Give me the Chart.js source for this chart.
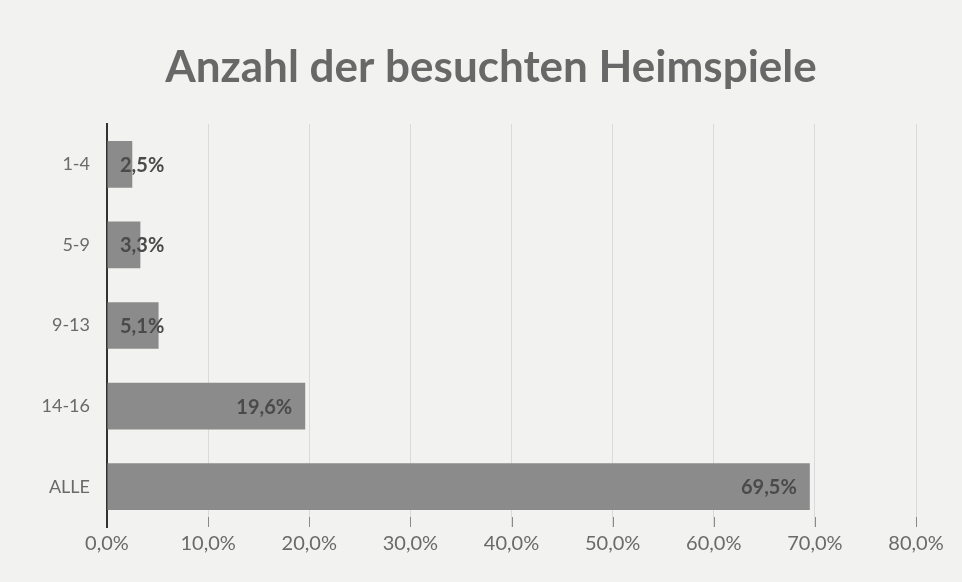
<!DOCTYPE html>
<html>
<head>
<meta charset="utf-8">
<script src="https://cdn.jsdelivr.net/npm/chart.js@4.4.0/dist/chart.umd.min.js"></script>
<style>
  html, body { margin: 0; padding: 0; background: #f2f2f1; }
  #wrap { width: 962px; height: 582px; position: relative; }
</style>
</head>
<body>
<div id="wrap"><canvas id="chart"></canvas></div>
<script>
// data
const categories = ['1-4', '5-9', '9-13', '14-16', 'ALLE'];
const shares = [2.5, 3.3, 5.1, 19.6, 69.5];
const axisMax = 80;
const axisStep = 10;
const chartTitle = 'Anzahl der besuchten Heimspiele';

const FONT = 'Lato, "Open Sans", sans-serif';
const fmt = v => v.toFixed(1).replace('.', ',') + '%';

// title drawn by hand: the scan centres it on the whole picture, not the plot
const titleText = {
    id: 'titleText',
    afterDraw(chart) {
        const ctx = chart.ctx;
        ctx.save();
        ctx.font = 'bold 44px ' + FONT;
        ctx.fillStyle = '#686868';
        ctx.textAlign = 'center';
        ctx.textBaseline = 'middle';
        ctx.fillText(chartTitle, 491, 68);
        ctx.restore();
    }
};

// Excel style "inside end" labels, pushed right when the bar is too short
const barLabels = {
    id: 'barLabels',
    afterDatasetsDraw(chart) {
        const ctx = chart.ctx;
        const meta = chart.getDatasetMeta(0);
        const x0 = chart.scales.x.getPixelForValue(0);
        ctx.save();
        ctx.font = 'bold 20px ' + FONT;
        ctx.fillStyle = '#4a4a4a';
        ctx.textBaseline = 'middle';
        meta.data.forEach((bar, i) => {
            const txt = fmt(shares[i]);
            const w = ctx.measureText(txt).width;
            const x = Math.max(x0 + 13, bar.x - 13 - w);
            ctx.fillText(txt, x, bar.y + 1);
        });
        ctx.restore();
    }
};

// small tick marks at the bottom of every gridline
const tickMarks = {
    id: 'tickMarks',
    afterDatasetsDraw(chart) {
        const ctx = chart.ctx, sx = chart.scales.x, area = chart.chartArea;
        ctx.save();
        ctx.strokeStyle = '#8a8a8a';
        ctx.lineWidth = 1;
        sx.ticks.forEach((t, i) => {
            if (i === 0) return;
            const x = Math.round(sx.getPixelForTick(i)) + 0.5;
            ctx.beginPath();
            ctx.moveTo(x, area.bottom - 10);
            ctx.lineTo(x, area.bottom);
            ctx.stroke();
        });
        ctx.restore();
    }
};

new Chart(document.getElementById('chart'), {
    type: 'bar',
    data: {
        labels: categories,
        datasets: [{
            data: shares,
            backgroundColor: '#8b8b8b',
            barPercentage: 0.58,
            categoryPercentage: 1
        }]
    },
    options: {
        indexAxis: 'y',
        responsive: true,
        maintainAspectRatio: false,
        animation: false,
        layout: { padding: { left: 0, right: 46, top: 124, bottom: 0 } },
        plugins: {
            legend: { display: false },
            tooltip: { enabled: false },
            title: { display: false }
        },
        scales: {
            x: {
                min: 0, max: axisMax,
                ticks: {
                    stepSize: axisStep,
                    callback: v => fmt(v),
                    color: '#6a6a6a',
                    font: { family: FONT, size: 20 },
                    padding: 5
                },
                grid: { color: '#dadada', drawTicks: false },
                border: { display: false },
                afterFit: s => { s.height = 55; }
            },
            y: {
                ticks: {
                    color: '#6a6a6a',
                    font: { family: FONT, size: 18 },
                    padding: 9
                },
                grid: { display: false },
                border: { color: '#333333', width: 2 },
                afterFit: s => { s.width = 107; }
            }
        }
    },
    plugins: [tickMarks, barLabels, titleText]
});
</script>
</body>
</html>
